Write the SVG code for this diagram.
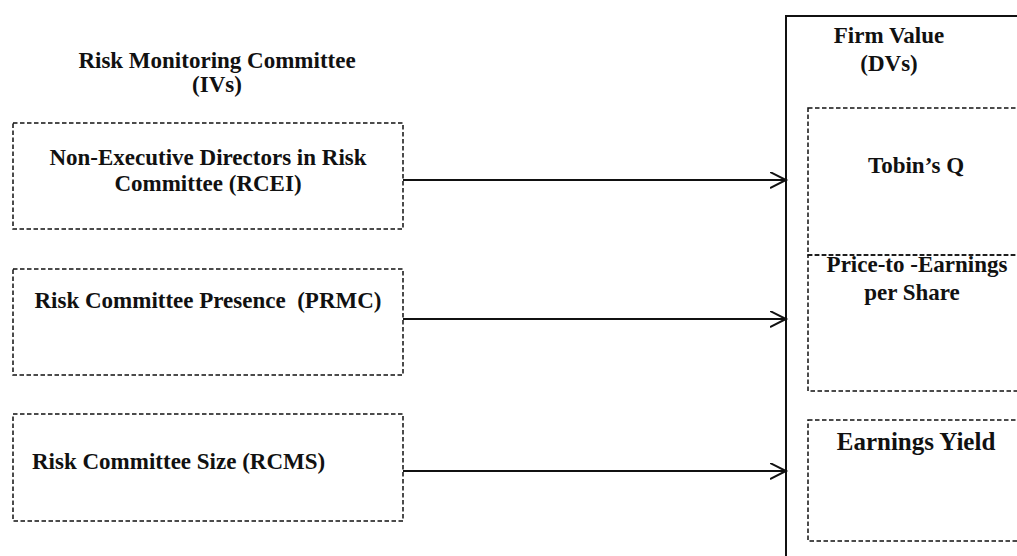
<svg xmlns="http://www.w3.org/2000/svg" width="1017" height="556" viewBox="0 0 1017 556">
  <style>
    text { font-family: "Liberation Serif", "Times New Roman", serif; font-weight: bold; font-size: 23px; fill: #111; }
    .c { text-anchor: middle; }
    .dash { fill: none; stroke: #111; stroke-width: 1.5; stroke-dasharray: 4.5 2.5; }
    .solid { fill: none; stroke: #111; stroke-width: 2; }
    .conn { fill: none; stroke: #111; stroke-width: 2; marker-end: url(#open); }
  </style>
  <defs>
    <marker id="open" markerUnits="userSpaceOnUse" markerWidth="20" markerHeight="20" refX="16" refY="8" orient="auto">
      <path d="M0,0 L16,8 L0,16" fill="none" stroke="#111" stroke-width="2"/>
    </marker>
  </defs>
  <rect width="1017" height="556" fill="#fff"/>

  <!-- independent variables heading -->
  <g id="iv-heading">
    <text class="c" x="217" y="68">Risk Monitoring Committee</text>
    <text class="c" x="217" y="92">(IVs)</text>
  </g>

  <g id="node-rcei">
    <rect class="dash" x="13" y="123" width="390" height="106"/>
    <text class="c" x="208" y="165">Non-Executive Directors in Risk</text>
    <text class="c" x="208" y="191">Committee (RCEI)</text>
  </g>

  <g id="node-prmc">
    <rect class="dash" x="13" y="269" width="390" height="106"/>
    <text class="c" x="208" y="308" xml:space="preserve">Risk Committee Presence  (PRMC)</text>
  </g>

  <g id="node-rcms">
    <rect class="dash" x="13" y="414" width="390" height="107"/>
    <text x="32" y="469">Risk Committee Size (RCMS)</text>
  </g>

  <!-- dependent variables panel -->
  <g id="node-firm-value">
    <rect class="solid" x="786" y="16" width="260" height="560"/>
    <text class="c" x="889" y="43">Firm Value</text>
    <text class="c" x="889" y="71">(DVs)</text>
  </g>

  <g id="node-tobins-q">
    <rect class="dash" x="808" y="108" width="240" height="147"/>
    <text class="c" x="916" y="173">Tobin’s Q</text>
  </g>

  <g id="node-pe">
    <rect class="dash" x="808" y="255" width="240" height="136"/>
    <text class="c" x="917" y="272">Price-to -Earnings</text>
    <text class="c" x="912" y="300">per Share</text>
  </g>

  <g id="node-earnings-yield">
    <rect class="dash" x="808" y="420" width="240" height="121"/>
    <text class="c" x="916" y="450" style="font-size:25px">Earnings Yield</text>
  </g>

  <g id="connectors">
    <line class="conn" x1="403" y1="180" x2="786" y2="180"/>
    <line class="conn" x1="403" y1="319" x2="786" y2="319"/>
    <line class="conn" x1="403" y1="471" x2="786" y2="471"/>
  </g>
</svg>
